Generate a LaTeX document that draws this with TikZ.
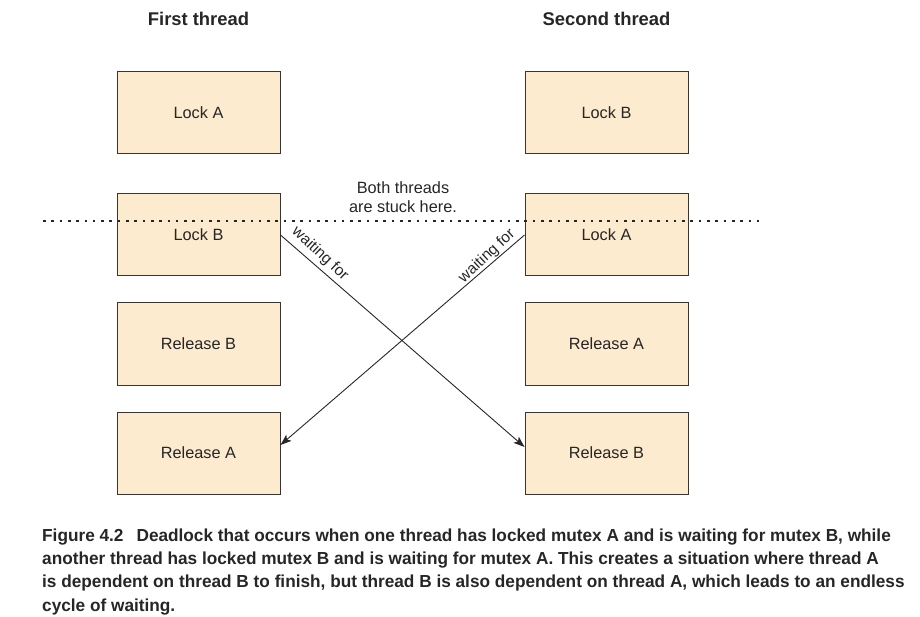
\documentclass[tikz,border=0pt]{standalone}
\usepackage{fontspec}
\setmainfont{Liberation Sans}
\newfontfamily\capfont[FakeStretch=0.99]{Liberation Sans}
\usetikzlibrary{arrows.meta,calc}
\definecolor{boxfill}{HTML}{FDEBCF}
\definecolor{boxline}{HTML}{3A3430}
\definecolor{ink}{HTML}{262626}
\tikzset{
  stepbox/.style={draw=boxline, line width=1pt, fill=boxfill, minimum width=163pt, minimum height=82pt, inner sep=0pt, font=\fontsize{16.3}{19}\selectfont, text=ink},
  title/.style={font=\fontsize{18.4}{21}\selectfont\bfseries, text=ink},
  waitarrow/.style={draw=ink, line width=0.9pt, -{Stealth[length=11pt,width=8pt,inset=2.5pt]}},
  waitlabel/.style={font=\fontsize{15.5}{17}\selectfont, text=ink, inner sep=0pt},
  stuckline/.style={draw=black!85, line width=2.6pt, dash pattern=on 2.6pt off 5.7pt},
  captext/.style={anchor=base west, inner sep=0pt, font=\capfont\bfseries\fontsize{17.4}{20}\selectfont, text=ink}
}
\begin{document}
\begin{tikzpicture}[x=1pt,y=-1pt]
\useasboundingbox (0,0) rectangle (920,617);
% titles
\node[title] (t1) at (198.5,19) {First thread};
\node[title] (t2) at (606.5,19) {Second thread};
% first thread
\node[stepbox] (la1) at (198.5,113) {Lock A};
\node[stepbox] (lb1) at (198.5,235) {Lock B};
\node[stepbox] (rb1) at (198.5,344) {Release B};
\node[stepbox] (ra1) at (198.5,453) {Release A};
% second thread
\node[stepbox] (lb2) at (606.5,113) {Lock B};
\node[stepbox] (la2) at (606.5,235) {Lock A};
\node[stepbox] (ra2) at (606.5,344) {Release A};
\node[stepbox] (rb2) at (606.5,453) {Release B};
% stuck line
\coordinate (sl) at (43,221);
\coordinate (sr) at (765,221);
\draw[stuckline] (sl) -- (sr);
\node[font=\fontsize{16.3}{19}\selectfont, text=ink, align=center, inner sep=0pt] (stuck) at (403,197) {Both threads\\are stuck here.};
% arrows
\draw[waitarrow] (lb1.east) -- ($(rb2.west)+(0,-6)$);
\draw[waitarrow] (la2.west) -- ($(ra1.east)+(0,-8)$);
\node[waitlabel, rotate=-43] (w1) at (320,254) {waiting for};
\node[waitlabel, rotate=43] (w2) at (487,256) {waiting for};
% caption
\node[captext] (c1) at (42,541) {Figure 4.2\hspace{13pt}Deadlock that occurs when one thread has locked mutex A and is waiting for mutex B, while};
\node[captext] (c2) at (42,564.3) {another thread has locked mutex B and is waiting for mutex A. This creates a situation where thread A};
\node[captext] (c3) at (42,587.7) {is dependent on thread B to finish, but thread B is also dependent on thread A, which leads to an endless};
\node[captext] (c4) at (42,611) {cycle of waiting.};
\end{tikzpicture}
\end{document}
